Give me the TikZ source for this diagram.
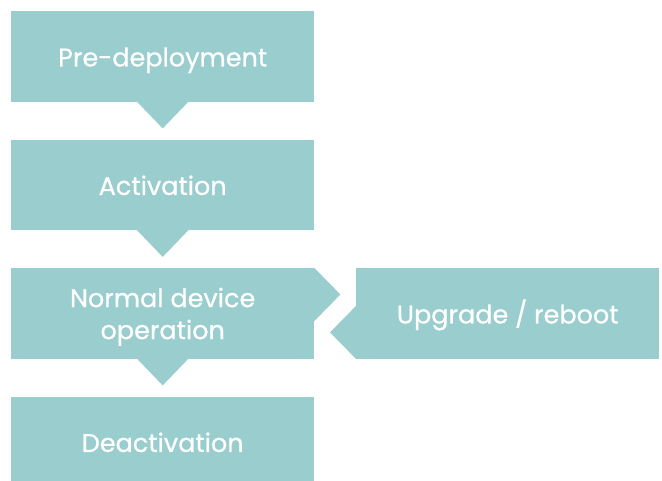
\documentclass[tikz,border=0pt]{standalone}
\usepackage{fontspec}
\setmainfont{Poppins}
\newfontfamily\lblfont{Poppins}[FakeBold=0.7]
\definecolor{teal}{RGB}{154,205,206}
\begin{document}
\begin{tikzpicture}[x=1pt,y=1pt,
  stage/.style={fill=teal, draw=none, minimum width=303pt, minimum height=90.5pt, inner sep=0pt,
    text=white, font=\lblfont\fontsize{25.5}{32}\selectfont, align=center, anchor=north west},
  oneline/.style={text height=20pt, text depth=0pt},
  tri/.style={fill=teal, draw=none}]
\useasboundingbox (0,0) rectangle (662,480);
\node[stage, oneline] (pre) at (11,469) {Pre-deployment};
\node[stage, oneline] (act) at (11,340.5) {Activation};
\node[stage] (norm) at (11,212) {\rule{0pt}{26pt}Normal device\\operation};
\node[stage, oneline] (deact) at (11,83.5) {Deactivation};
\node[stage, oneline] (upg) at (356,212) {Upgrade / reboot};
% downward arrows
\foreach \n in {pre,act,norm}{
  \fill[tri] ([xshift=-26.5pt,yshift=1pt]\n.south) -- ([xshift=26.5pt,yshift=1pt]\n.south) -- ([yshift=-26.5pt]\n.south) -- cycle;
}
% right arrow from normal operation
\fill[tri] ([xshift=-1pt]norm.north east) -- ([xshift=-1pt,yshift=-54pt]norm.north east) -- ([yshift=-53pt]norm.north east) -- ([xshift=26pt,yshift=-26.5pt]norm.north east) -- (norm.north east) -- cycle;
% left arrow from upgrade
\fill[tri] ([xshift=1pt]upg.south west) -- ([xshift=1pt,yshift=53pt]upg.south west) -- ([yshift=53pt]upg.south west) -- ([xshift=-26pt,yshift=26.5pt]upg.south west) -- (upg.south west) -- cycle;
\end{tikzpicture}
\end{document}
